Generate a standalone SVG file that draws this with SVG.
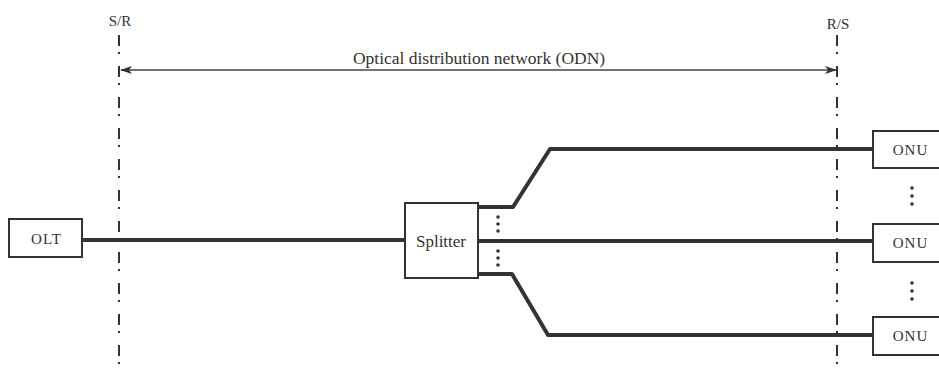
<svg xmlns="http://www.w3.org/2000/svg" width="939" height="368" viewBox="0 0 939 368">
<style>
text{font-family:"Liberation Serif","DejaVu Serif","Times New Roman",serif;fill:#333;}
.box{fill:#fff;stroke:#333;stroke-width:2;}
.fib{fill:none;stroke:#333;stroke-width:4;stroke-linejoin:round;}
.ref{fill:none;stroke:#333;stroke-width:2;stroke-dasharray:11 6 2 12;}
.lbl{font-size:15px;letter-spacing:1px;}
.pt{font-size:15px;}
</style>
<defs>
<marker id="ah" markerWidth="12" markerHeight="8" refX="11" refY="4" orient="auto-start-reverse" markerUnits="userSpaceOnUse">
<path d="M0,0 L12,4 L0,8 L3,4 Z" fill="#333"/>
</marker>
</defs>
<rect width="939" height="368" fill="#fff"/>
<g id="connectors">
<line class="ref" x1="119" y1="35" x2="119" y2="368"/>
<line class="ref" x1="837" y1="35" x2="837" y2="368"/>
<line x1="121" y1="70" x2="836" y2="70" stroke="#444" stroke-width="1.5" marker-start="url(#ah)" marker-end="url(#ah)"/>
<line class="fib" x1="82" y1="240" x2="405" y2="240"/>
<polyline class="fib" points="478,207 513,207 550,149 873,149"/>
<line class="fib" x1="478" y1="241" x2="873" y2="241"/>
<polyline class="fib" points="478,274 512,274 548,335 873,335"/>
<g fill="#333">
<circle cx="498" cy="217" r="1.8"/><circle cx="498" cy="224" r="1.8"/><circle cx="498" cy="231" r="1.8"/>
<circle cx="498" cy="251" r="1.8"/><circle cx="498" cy="258" r="1.8"/><circle cx="498" cy="265" r="1.8"/>
<circle cx="912" cy="188" r="1.8"/><circle cx="912" cy="196" r="1.8"/><circle cx="912" cy="204" r="1.8"/>
<circle cx="912" cy="283" r="1.8"/><circle cx="912" cy="291" r="1.8"/><circle cx="912" cy="299" r="1.8"/>
</g>
</g>
<text class="pt" x="120" y="26" text-anchor="middle">S/R</text>
<text class="pt" x="838" y="29" text-anchor="middle">R/S</text>
<text x="479" y="64" font-size="17.5" text-anchor="middle">Optical distribution network (ODN)</text>
<g id="olt">
<rect class="box" x="9" y="219" width="73" height="38"/>
<text class="lbl" x="46.5" y="244" text-anchor="middle">OLT</text>
</g>
<g id="splitter">
<rect class="box" x="405" y="203" width="73" height="75"/>
<text x="441" y="247" font-size="17" text-anchor="middle">Splitter</text>
</g>
<g id="onu1">
<rect class="box" x="873" y="131" width="70" height="37"/>
<text class="lbl" x="910.5" y="155" text-anchor="middle">ONU</text>
</g>
<g id="onu2">
<rect class="box" x="873" y="224" width="70" height="38"/>
<text class="lbl" x="910.5" y="248" text-anchor="middle">ONU</text>
</g>
<g id="onu3">
<rect class="box" x="873" y="317" width="70" height="38"/>
<text class="lbl" x="910.5" y="341" text-anchor="middle">ONU</text>
</g>
</svg>
